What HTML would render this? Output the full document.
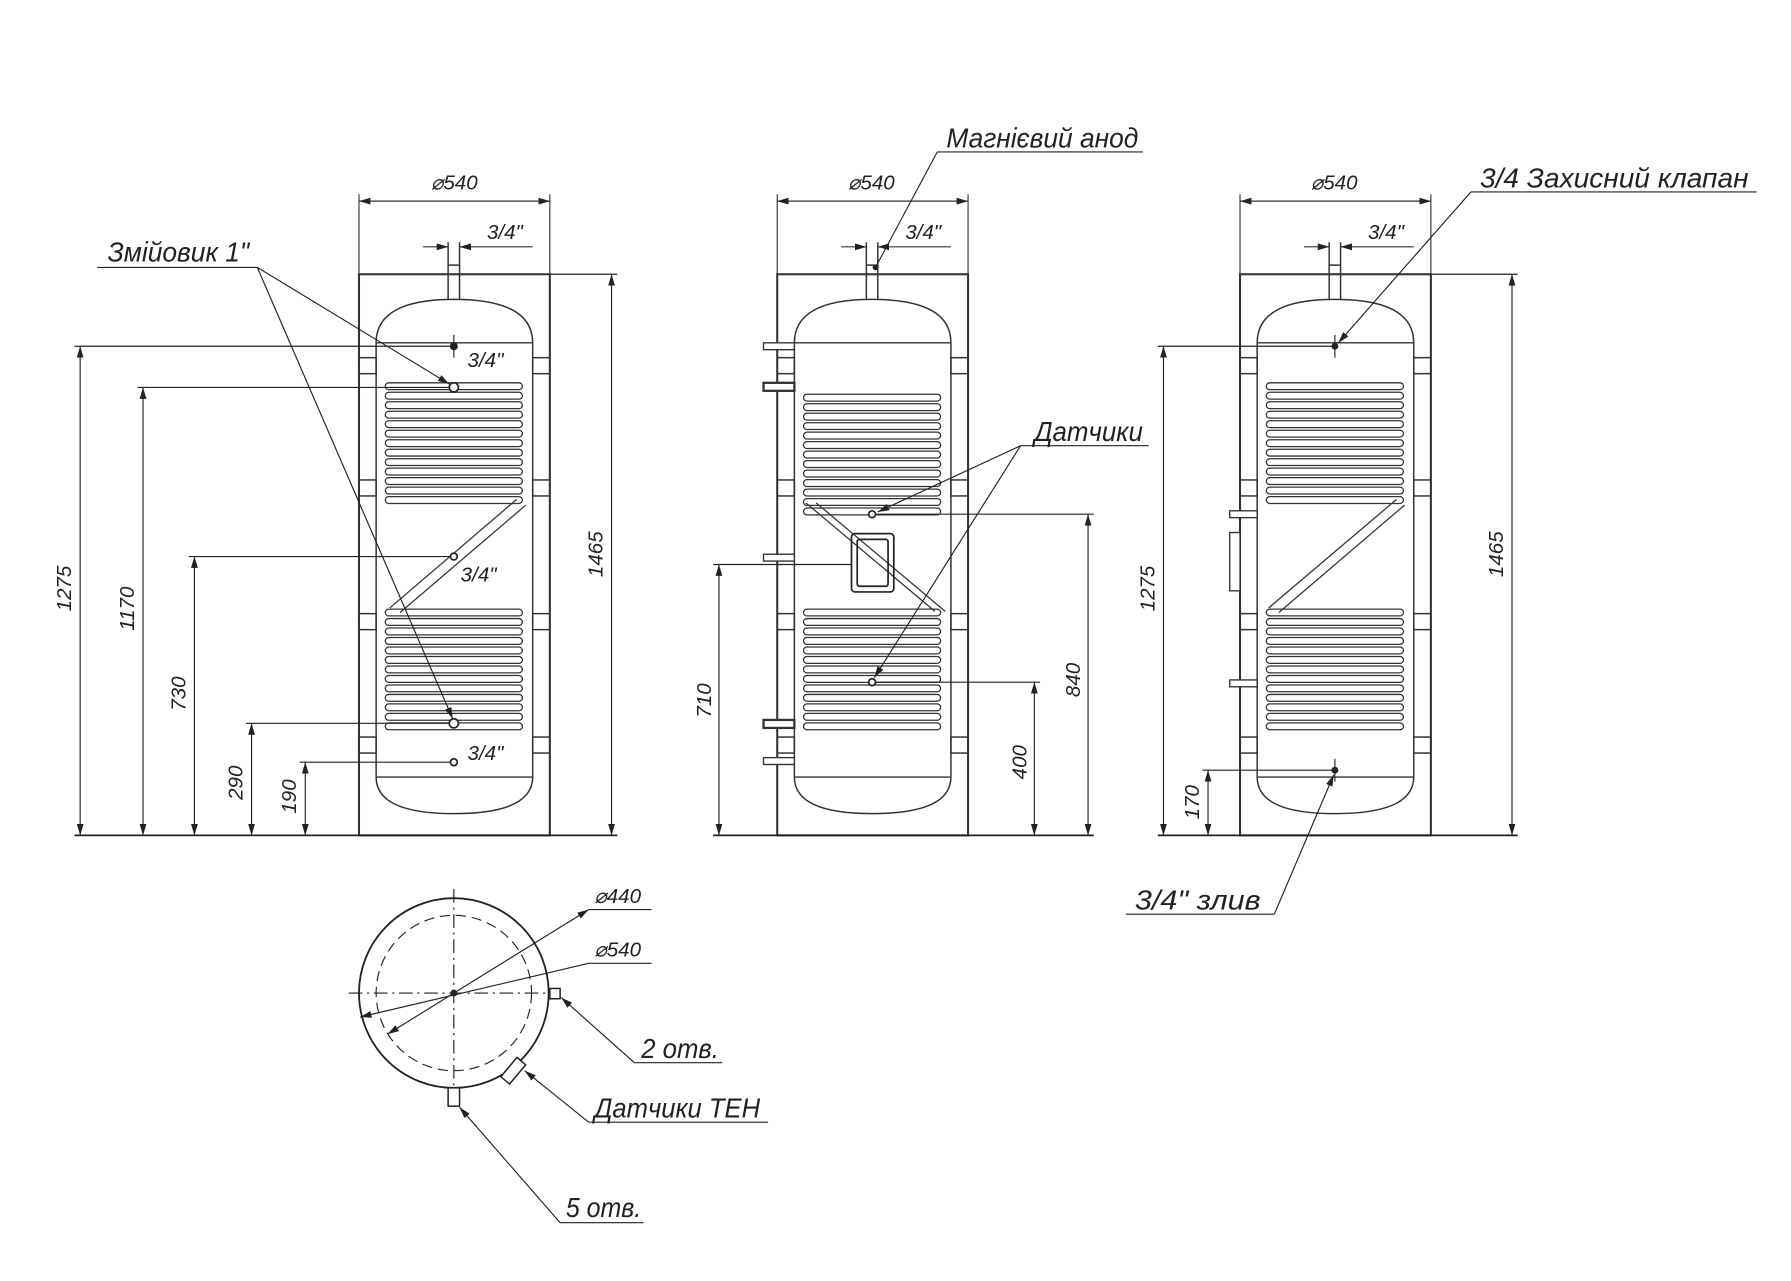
<!DOCTYPE html>
<html><head><meta charset="utf-8"><style>
html,body{margin:0;padding:0;background:#fff}
svg{display:block}
text{font-family:"Liberation Sans",sans-serif;font-style:italic;fill:#222}
</style></head><body>
<svg width="1791" height="1281" viewBox="0 0 1567 1121" xmlns="http://www.w3.org/2000/svg">
<defs>
<marker id="a" viewBox="0 0 10 6" refX="10" refY="3" markerWidth="10" markerHeight="6" orient="auto-start-reverse" markerUnits="userSpaceOnUse"><path d="M0,0 L10,3 L0,6 z" fill="#222"/></marker>
<g id="coil" fill="none" stroke="#333" stroke-width="1.1">
<rect x="0" y="0" width="120" height="6" rx="3"/><rect x="0" y="8.3" width="120" height="6" rx="3"/><rect x="0" y="16.6" width="120" height="6" rx="3"/><rect x="0" y="24.9" width="120" height="6" rx="3"/><rect x="0" y="33.2" width="120" height="6" rx="3"/><rect x="0" y="41.5" width="120" height="6" rx="3"/><rect x="0" y="49.8" width="120" height="6" rx="3"/><rect x="0" y="58.1" width="120" height="6" rx="3"/><rect x="0" y="66.4" width="120" height="6" rx="3"/><rect x="0" y="74.7" width="120" height="6" rx="3"/><rect x="0" y="83" width="120" height="6" rx="3"/><rect x="0" y="91.3" width="120" height="6" rx="3"/><rect x="0" y="99.6" width="120" height="6" rx="3"/>
</g>
<g id="tank" fill="none" stroke="#333" stroke-width="1.3">
<rect x="0" y="0" width="167" height="491" stroke-width="1.8"/>
<path d="M15,60 Q15,22 83,22 Q152,22 152,60 L152,440 Q152,472 83,472 Q15,472 15,440 Z"/>
<line x1="15" y1="60" x2="152" y2="60"/><line x1="15" y1="440" x2="152" y2="440"/>
<path d="M78,22 V-28 M88,22 V-28 M78,-8 H88 M78,0 H88"/>
<rect x="0" y="73" width="15" height="14"/><rect x="0" y="180" width="15" height="14"/><rect x="0" y="297" width="15" height="14"/><rect x="0" y="405" width="15" height="14"/>
<rect x="152" y="73" width="15" height="14"/><rect x="152" y="180" width="15" height="14"/><rect x="152" y="297" width="15" height="14"/><rect x="152" y="405" width="15" height="14"/>
<line x1="0" y1="-70" x2="0" y2="0" stroke-width="1"/><line x1="167" y1="-70" x2="167" y2="0" stroke-width="1"/>
<line x1="0" y1="-64" x2="167" y2="-64" stroke-width="1" marker-start="url(#a)" marker-end="url(#a)"/>
<line x1="56" y1="-24" x2="78" y2="-24" stroke-width="1" marker-end="url(#a)"/>
<line x1="152" y1="-24" x2="88" y2="-24" stroke-width="1" marker-end="url(#a)"/>
</g>
</defs>

<g font-size="18">
<!-- LEFT VIEW -->
<use href="#tank" x="314" y="240"/>
<use href="#coil" x="337" y="335"/><use href="#coil" x="337" y="533"/>
<path d="M452,437 L341,532 M460,442 L350,536" stroke="#333" fill="none" stroke-width="1.1"/>
<text x="377" y="166">⌀540</text><text x="426" y="209">3/4"</text>
<g stroke="#222" stroke-width="1" fill="none">
<line x1="65" y1="731" x2="540" y2="731" stroke-width="1.5"/>
<line x1="481" y1="240" x2="540" y2="240"/>
<line x1="535" y1="240" x2="535" y2="731" marker-start="url(#a)" marker-end="url(#a)"/>
<line x1="65" y1="303" x2="397" y2="303"/><line x1="70" y1="303" x2="70" y2="731" marker-start="url(#a)" marker-end="url(#a)"/>
<line x1="120" y1="339" x2="397" y2="339"/><line x1="125" y1="339" x2="125" y2="731" marker-start="url(#a)" marker-end="url(#a)"/>
<line x1="165" y1="487" x2="397" y2="487"/><line x1="170" y1="487" x2="170" y2="731" marker-start="url(#a)" marker-end="url(#a)"/>
<line x1="215" y1="633" x2="397" y2="633"/><line x1="220" y1="633" x2="220" y2="731" marker-start="url(#a)" marker-end="url(#a)"/>
<line x1="262" y1="667" x2="397" y2="667"/><line x1="267" y1="667" x2="267" y2="731" marker-start="url(#a)" marker-end="url(#a)"/>
<line x1="397" y1="293" x2="397" y2="313"/>
<line x1="85" y1="234" x2="225" y2="234"/>
<line x1="225" y1="234" x2="393" y2="336" marker-end="url(#a)"/>
<line x1="225" y1="234" x2="396" y2="629" marker-end="url(#a)"/>
</g>
<g fill="#fff" stroke="#222" stroke-width="1.5"><circle cx="397" cy="339" r="4"/><circle cx="397" cy="633" r="4"/><circle cx="397" cy="487" r="3"/><circle cx="397" cy="667" r="3"/></g>
<circle cx="397" cy="303" r="3.5" fill="#222"/>
<text x="409" y="321">3/4"</text><text x="403" y="509">3/4"</text><text x="409" y="665">3/4"</text>
<text transform="translate(62,535) rotate(-90)">1275</text>
<text transform="translate(117,552) rotate(-90)">1170</text>
<text transform="translate(162,622) rotate(-90)">730</text>
<text transform="translate(212,700) rotate(-90)">290</text>
<text transform="translate(259,712) rotate(-90)">190</text>
<text transform="translate(527,505) rotate(-90)">1465</text>
<text x="94" y="229" font-size="24" textLength="124" lengthAdjust="spacingAndGlyphs">Змійовик 1"</text>

<!-- MIDDLE VIEW -->
<use href="#tank" x="680" y="240"/>
<use href="#coil" x="703" y="345"/><use href="#coil" x="703" y="533"/>
<path d="M705,440 L818,535 M714,440 L827,535" stroke="#333" fill="none" stroke-width="1.1"/>
<rect x="745" y="467" width="37" height="51" rx="3" fill="none" stroke="#222" stroke-width="1.5"/>
<rect x="750" y="472" width="27" height="41" rx="2" fill="none" stroke="#222" stroke-width="1.5"/>
<g fill="#fff" stroke="#333" stroke-width="1.2">
<rect x="668" y="300" width="27" height="6"/><rect x="668" y="335" width="27" height="7" stroke-width="2"/><rect x="668" y="485" width="27" height="6"/><rect x="668" y="630" width="27" height="7" stroke-width="2"/><rect x="668" y="663" width="27" height="6"/>
</g>
<text x="742" y="166">⌀540</text><text x="792" y="209">3/4"</text>
<g stroke="#222" stroke-width="1" fill="none">
<line x1="624" y1="731" x2="957" y2="731" stroke-width="1.5"/>
<line x1="763" y1="450" x2="957" y2="450"/><line x1="952" y1="450" x2="952" y2="731" marker-start="url(#a)" marker-end="url(#a)"/>
<line x1="763" y1="597" x2="910" y2="597"/><line x1="905" y1="597" x2="905" y2="731" marker-start="url(#a)" marker-end="url(#a)"/>
<line x1="624" y1="494" x2="745" y2="494"/><line x1="629" y1="494" x2="629" y2="731" marker-start="url(#a)" marker-end="url(#a)"/>
<line x1="893" y1="390" x2="1005" y2="390"/>
<line x1="893" y1="390" x2="768" y2="448" marker-end="url(#a)"/>
<line x1="893" y1="390" x2="765" y2="593" marker-end="url(#a)"/>
<line x1="820" y1="133" x2="1000" y2="133"/>
<line x1="820" y1="133" x2="766" y2="234"/>
</g>
<g fill="#fff" stroke="#222" stroke-width="1.5"><circle cx="763" cy="450" r="3"/><circle cx="763" cy="597" r="3"/></g>
<circle cx="766" cy="234" r="2.5" fill="#222"/>
<text transform="translate(945,610) rotate(-90)">840</text>
<text transform="translate(898,682) rotate(-90)">400</text>
<text transform="translate(622,628) rotate(-90)">710</text>
<text x="905" y="386" font-size="24" textLength="95" lengthAdjust="spacingAndGlyphs">Датчики</text>
<text x="828" y="129" font-size="24" textLength="168" lengthAdjust="spacingAndGlyphs">Магнієвий анод</text>

<!-- RIGHT VIEW -->
<use href="#tank" x="1085" y="240"/>
<use href="#coil" x="1108" y="335"/><use href="#coil" x="1108" y="533"/>
<path d="M1222,437 L1110,532 M1229,442 L1119,536" stroke="#333" fill="none" stroke-width="1.1"/>
<g fill="#fff" stroke="#333" stroke-width="1.2">
<rect x="1076" y="447" width="24" height="6"/><rect x="1076" y="595" width="24" height="6"/><rect x="1076" y="466" width="9" height="51"/>
</g>
<text x="1147" y="166">⌀540</text><text x="1197" y="209">3/4"</text>
<g stroke="#222" stroke-width="1" fill="none">
<line x1="1013" y1="731" x2="1328" y2="731" stroke-width="1.5"/>
<line x1="1251" y1="240" x2="1328" y2="240"/><line x1="1323" y1="240" x2="1323" y2="731" marker-start="url(#a)" marker-end="url(#a)"/>
<line x1="1013" y1="303" x2="1168" y2="303"/><line x1="1018" y1="303" x2="1018" y2="731" marker-start="url(#a)" marker-end="url(#a)"/>
<line x1="1052" y1="674" x2="1168" y2="674"/><line x1="1057" y1="674" x2="1057" y2="731" marker-start="url(#a)" marker-end="url(#a)"/>
<line x1="1168" y1="293" x2="1168" y2="313"/><line x1="1168" y1="664" x2="1168" y2="684"/>
<line x1="1287" y1="168" x2="1537" y2="168"/><line x1="1287" y1="168" x2="1171" y2="300" marker-end="url(#a)"/>
<line x1="985" y1="800" x2="1115" y2="800"/><line x1="1115" y1="800" x2="1167" y2="678" marker-end="url(#a)"/>
</g>
<circle cx="1168" cy="303" r="3" fill="#222"/><circle cx="1168" cy="674" r="3" fill="#222"/>
<text transform="translate(1010,535) rotate(-90)">1275</text>
<text transform="translate(1049,717) rotate(-90)">170</text>
<text transform="translate(1315,505) rotate(-90)">1465</text>
<text x="1295" y="164" font-size="24" textLength="235" lengthAdjust="spacingAndGlyphs">3/4 Захисний клапан</text>
<text x="993" y="796" font-size="24" textLength="110" lengthAdjust="spacingAndGlyphs">3/4" злив</text>

<!-- TOP VIEW -->
<g stroke="#222" fill="none" stroke-width="1">
<circle cx="397" cy="869" r="83" stroke-width="1.6"/>
<circle cx="397" cy="869" r="68" stroke-dasharray="9 5"/>
<line x1="397" y1="778" x2="397" y2="962" stroke-dasharray="12 4 2 4"/>
<line x1="305" y1="869" x2="490" y2="869" stroke-dasharray="12 4 2 4"/>
<rect x="392" y="952" width="10" height="16" fill="#fff" stroke-width="1.3"/>
<rect x="481" y="865" width="9" height="9" fill="#fff" stroke-width="1.3"/>
<rect x="444" y="926" width="10" height="22" transform="rotate(40 449 937)" fill="#fff" stroke-width="1.3"/>
<line x1="515" y1="796" x2="570" y2="796"/><line x1="515" y1="796" x2="339" y2="905" marker-start="url(#a)" marker-end="url(#a)"/>
<line x1="515" y1="843" x2="570" y2="843"/><line x1="515" y1="843" x2="315" y2="890" marker-end="url(#a)"/>
<line x1="555" y1="930" x2="632" y2="930"/><line x1="555" y1="930" x2="491" y2="873" marker-end="url(#a)"/>
<line x1="515" y1="982" x2="672" y2="982"/><line x1="515" y1="982" x2="459" y2="937" marker-end="url(#a)"/>
<line x1="490" y1="1070" x2="563" y2="1070"/><line x1="490" y1="1070" x2="402" y2="969" marker-end="url(#a)"/>
</g>
<circle cx="397" cy="869" r="3" fill="#222"/>
<text x="520" y="790">⌀440</text><text x="520" y="837">⌀540</text>
<text x="561" y="926" font-size="24" textLength="68" lengthAdjust="spacingAndGlyphs">2 отв.</text>
<text x="520" y="978" font-size="24" textLength="145" lengthAdjust="spacingAndGlyphs">Датчики ТЕН</text>
<text x="495" y="1065" font-size="24" textLength="66" lengthAdjust="spacingAndGlyphs">5 отв.</text>
</g>
</svg>
</body></html>
